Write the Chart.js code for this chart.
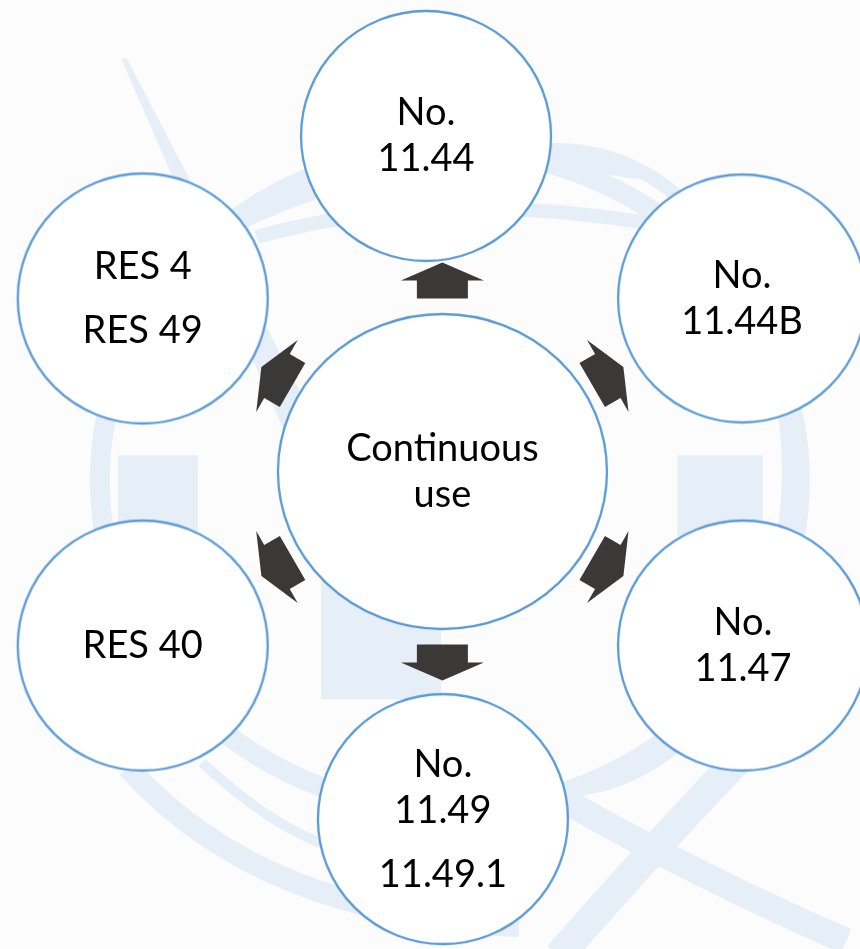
<!DOCTYPE html>
<html><head><meta charset="utf-8">
<script src="https://cdn.jsdelivr.net/npm/chart.js@4/dist/chart.umd.min.js"></script>
<style>html,body{margin:0;padding:0;background:#fcfcfd;overflow:hidden}#wrap{width:860px;height:949px}</style>
</head><body><div id="wrap"><canvas id="c" width="860" height="949"></canvas></div>
<script>
// ---- data ----
const nodeNames = ["Continuous use", "No. 11.44", "No. 11.44B", "No. 11.47", "No. 11.49 / 11.49.1", "RES 40", "RES 4 / RES 49"];
// label paragraphs, each paragraph a list of lines
const nodeLabels = [
  [["Continuous", "use"]],
  [["No.", "11.44"]],
  [["No.", "11.44B"]],
  [["No.", "11.47"]],
  [["No.", "11.49"], ["11.49.1"]],
  [["RES 40"]],
  [["RES 4"], ["RES 49"]]
];
const nodeX = [442.5, 426, 745, 746, 443, 140, 140];
const nodeY = [471.5, 133, 297, 647, 822, 647, 297];
const arrowAngles = [-90, -30, 30, 90, 150, 210];

// ---- styles ----
const STROKE = '#5b9bd5';
const ARROW = '#3a3938';
const WM = '#e6eef8';
const FONT = '38px Lato, "Open Sans", sans-serif';
const nodeRx = [164.5, 125, 124, 125, 125, 125, 125];
const nodeRy = [157.5, 125, 124, 125, 125, 125, 125];

function nodeCanvas(rx, ry) {
  const c = document.createElement('canvas');
  c.width = Math.ceil(rx * 2 + 6); c.height = Math.ceil(ry * 2 + 6);
  const g = c.getContext('2d');
  g.beginPath();
  g.ellipse(c.width / 2, c.height / 2, rx, ry, 0, 0, Math.PI * 2);
  g.fillStyle = '#ffffff'; g.fill();
  g.lineWidth = 2.3; g.strokeStyle = STROKE; g.stroke();
  return c;
}
const nodeStyles = nodeRx.map((r, i) => nodeCanvas(r, nodeRy[i]));

const watermark = {
  id: 'watermark',
  beforeDatasetsDraw(chart) {
    const { ctx, scales: { x, y } } = chart;
    const X = v => x.getPixelForValue(v), Y = v => y.getPixelForValue(v);
    ctx.save();
    ctx.fillStyle = WM; ctx.strokeStyle = WM;
    // globe ring
    ctx.lineWidth = 20;
    ctx.beginPath(); ctx.ellipse(X(450), Y(480), 350, 330, 0, 0, Math.PI * 2); ctx.stroke();
    // inner meridian arcs
    ctx.lineWidth = 14;
    ctx.beginPath(); ctx.ellipse(X(560), Y(470), 230, 320, 0, -Math.PI * 0.55, Math.PI * 0.5); ctx.stroke();
    ctx.beginPath(); ctx.moveTo(X(240), Y(220)); ctx.quadraticCurveTo(X(430), Y(130), X(640), Y(170)); ctx.stroke();
    ctx.beginPath(); ctx.moveTo(X(255), Y(235)); ctx.quadraticCurveTo(X(450), Y(180), X(700), Y(230)); ctx.stroke();
    // wedge
    ctx.beginPath(); ctx.moveTo(X(118), Y(55)); ctx.lineTo(X(124), Y(55)); ctx.lineTo(X(340), Y(470)); ctx.lineTo(X(300), Y(470)); ctx.closePath(); ctx.fill();
    // letter blocks
    ctx.fillRect(X(115), Y(455), 80, 95);
    ctx.fillRect(X(680), Y(455), 85, 90);
    ctx.fillRect(X(320), Y(560), 120, 140);
    // bottom swooshes
    ctx.lineWidth = 22;
    ctx.beginPath(); ctx.moveTo(X(125), Y(770)); ctx.quadraticCurveTo(X(260), Y(920), X(520), Y(930)); ctx.stroke();
    ctx.lineWidth = 10;
    ctx.beginPath(); ctx.moveTo(X(200), Y(765)); ctx.quadraticCurveTo(X(270), Y(830), X(330), Y(850)); ctx.stroke();
    ctx.lineWidth = 30;
    ctx.beginPath(); ctx.moveTo(X(560), Y(960)); ctx.quadraticCurveTo(X(700), Y(800), X(860), Y(640)); ctx.stroke();
    ctx.lineWidth = 26;
    ctx.beginPath(); ctx.moveTo(X(560), Y(800)); ctx.quadraticCurveTo(X(700), Y(880), X(850), Y(945)); ctx.stroke();
    ctx.restore();
  }
};

const overlay = {
  id: 'overlay',
  afterDatasetsDraw(chart) {
    const { ctx, scales: { x, y } } = chart;
    ctx.save();
    // arrows around center node
    const cx = x.getPixelForValue(nodeX[0]), cy = y.getPixelForValue(nodeY[0]);
    const dist = 191;
    ctx.fillStyle = ARROW;
    arrowAngles.forEach(a => {
      const t = a * Math.PI / 180;
      ctx.save();
      ctx.translate(cx + dist * Math.cos(t), cy + dist * Math.sin(t));
      ctx.rotate(t);
      ctx.beginPath();
      ctx.moveTo(18, 0); ctx.lineTo(0, -41.5); ctx.lineTo(0, -25.5); ctx.lineTo(-18, -25.5);
      ctx.lineTo(-18, 25.5); ctx.lineTo(0, 25.5); ctx.lineTo(0, 41.5); ctx.closePath();
      ctx.fill();
      ctx.restore();
    });
    // labels
    ctx.fillStyle = '#000';
    ctx.font = FONT;
    ctx.textAlign = 'center';
    ctx.textBaseline = 'alphabetic';
    nodeLabels.forEach((paras, i) => {
      const px = x.getPixelForValue(nodeX[i]), py = y.getPixelForValue(nodeY[i]);
      const pos = []; const lines = [];
      let p = 0, first = true;
      paras.forEach((para) => {
        para.forEach((ln, j) => {
          if (!first) p += (j === 0 ? 64 : 46);
          first = false;
          pos.push(p); lines.push(ln);
        });
      });
      const mid = (pos[0] + pos[pos.length - 1]) / 2;
      lines.forEach((ln, j) => ctx.fillText(ln, px, py + pos[j] - mid + 12.5));
    });
    ctx.restore();
  }
};

new Chart(document.getElementById('c'), {
  type: 'scatter',
  data: {
    labels: nodeNames,
    datasets: [{
      data: nodeX.map((v, i) => ({ x: v, y: nodeY[i] })),
      pointStyle: nodeStyles,
      pointRadius: 1,
      pointBorderWidth: 0,
      clip: false
    }]
  },
  options: {
    responsive: false,
    animation: false,
    events: [],
    layout: { padding: 0 },
    plugins: { legend: { display: false }, tooltip: { enabled: false } },
    scales: {
      x: { type: 'linear', min: 0, max: 860, display: false },
      y: { type: 'linear', min: 0, max: 949, reverse: true, display: false }
    }
  },
  plugins: [watermark, overlay]
});
</script>
</body></html>
